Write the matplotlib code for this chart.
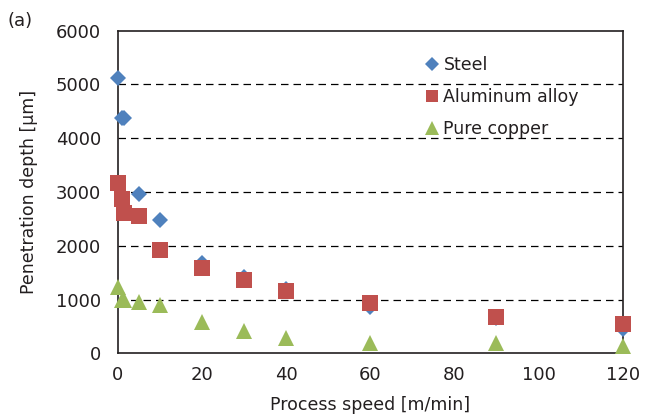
import matplotlib
matplotlib.use("Agg")
import matplotlib.pyplot as plt

plt.rcParams['font.family'] = ['DejaVu Sans']

speed = [0, 1, 1.5, 5, 10, 20, 30, 40, 60, 90, 120]
steel = [5120, 4380, 4380, 2970, 2470, 1670, 1420, 1200, 870, 650, 450]
aluminum = [3170, 2870, 2610, 2560, 1920, 1580, 1365, 1150, 930, 680, 540]
copper = [1230, 990, 990, 960, 900, 590, 420, 280, 200, 200, 136]

series_names = ["Steel", "Aluminum alloy", "Pure copper"]
xticks = [0, 20, 40, 60, 80, 100, 120]
yticks = [0, 1000, 2000, 3000, 4000, 5000, 6000]

TXT = '#231f20'
fig = plt.figure(figsize=(6.47, 4.17), dpi=100)
ax = fig.add_axes([0.182, 0.1528, 0.7804, 0.7736])

ax.plot(speed, steel, linestyle='none', marker='D', ms=7.8, color='#4F81BD', mew=0,
        label=series_names[0], clip_on=False, zorder=3)
ax.plot(speed, aluminum, linestyle='none', marker='s', ms=11, color='#C0504D', mew=0,
        label=series_names[1], clip_on=False, zorder=3)
ax.plot(speed, copper, linestyle='none', marker='^', ms=11.8, color='#9BBB59', mew=0,
        label=series_names[2], clip_on=False, zorder=3)

ax.set_xlim(0, 120)
ax.set_ylim(0, 6000)
ax.set_xticks(xticks)
ax.set_yticks(yticks)
ax.tick_params(axis='both', length=0, labelsize=13, colors=TXT)
ax.tick_params(axis='y', pad=12)
ax.tick_params(axis='x', pad=9)
for y in yticks[1:-1]:
    ax.axhline(y, color='black', lw=0.9, ls=(0, (6, 4)), zorder=0.5)
for s in ax.spines.values():
    s.set_color(TXT)
    s.set_linewidth(1.2)

ax.set_xlabel("Process speed [m/min]", fontsize=12.5, color=TXT, labelpad=9)
ax.set_ylabel("Penetration depth [μm]", fontsize=12.5, color=TXT, labelpad=13)

leg = ax.legend(loc='upper left', bbox_to_anchor=(0.597, 0.943), frameon=False,
                fontsize=12.5, handlelength=0.7, handletextpad=0.3, labelspacing=0.82,
                borderaxespad=0, markerscale=0.85)
for t in leg.get_texts():
    t.set_color(TXT)

fig.text(0.011, 0.972, "(a)", fontsize=13, va='top', ha='left', color=TXT)

fig.savefig("out.png", dpi=100)
